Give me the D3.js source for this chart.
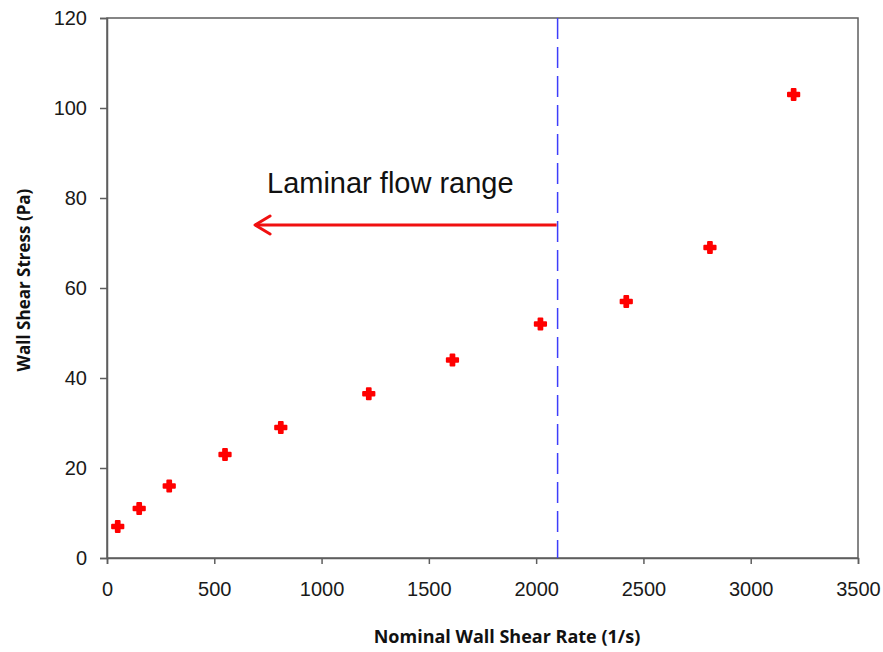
<!DOCTYPE html>
<html lang="en">
<head>
    <meta charset="UTF-8">
    <title>Wall Shear Stress</title>
    <script src="https://d3js.org/d3.v7.min.js"></script>
    <style>
        body { margin: 0; background: #fff; }
        text { font-family: "Liberation Sans", Arial, sans-serif; }
    </style>
</head>
<body>
<svg width="883" height="652"></svg>

<script>
    // values
    var shearRate = [50, 150, 290, 550, 810, 1220, 1610, 2020, 2420, 2810, 3200];
    var shearStress = [7, 11, 16, 23, 29, 36.5, 44, 52, 57, 69, 103];
    var xTicks = [0, 500, 1000, 1500, 2000, 2500, 3000, 3500];
    var yTicks = [0, 20, 40, 60, 80, 100, 120];
    var laminarLimit = 2100;
    var arrowFrom = 2100, arrowTo = 690, arrowLevel = 74;

    var svg = d3.select("svg");
    var plotLeft = 107, plotRight = 858, plotTop = 18, plotBottom = 558;

    var x = d3.scaleLinear().domain([0, 3500]).range([plotLeft, plotRight]);
    var y = d3.scaleLinear().domain([0, 120]).range([plotBottom, plotTop]);

    var axisColor = "#5e5e5e";

    // frame
    svg.append("rect")
        .attr("x", plotLeft).attr("y", plotTop)
        .attr("width", plotRight - plotLeft).attr("height", plotBottom - plotTop)
        .attr("fill", "none")
        .attr("stroke", axisColor)
        .attr("stroke-width", 1.5);

    var xAxis = svg.append("g")
        .attr("transform", "translate(0," + plotBottom + ")")
        .call(d3.axisBottom(x).tickValues(xTicks).tickSize(6).tickPadding(18).tickFormat(d3.format("d")));
    var yAxis = svg.append("g")
        .attr("transform", "translate(" + plotLeft + ",0)")
        .call(d3.axisLeft(y).tickValues(yTicks).tickSize(7).tickPadding(13).tickFormat(d3.format("d")));

    [xAxis, yAxis].forEach(function (g) {
        g.select(".domain").attr("stroke", axisColor).attr("stroke-width", 1.5);
        g.selectAll(".tick line").attr("stroke", axisColor).attr("stroke-width", 1.5);
        g.selectAll(".tick text")
            .attr("fill", "#1a1a1a")
            .style("font-size", "20px")
            .style("font-family", "'Liberation Sans', Arial, sans-serif");
    });

    // laminar boundary
    svg.append("line")
        .attr("x1", x(laminarLimit)).attr("x2", x(laminarLimit))
        .attr("y1", plotTop).attr("y2", plotBottom)
        .attr("stroke", "#3d3dfa")
        .attr("stroke-width", 1.5)
        .attr("stroke-dasharray", "21,8");

    // arrow
    var ay = y(arrowLevel);
    svg.append("line")
        .attr("x1", x(arrowFrom) - 1).attr("x2", x(arrowTo))
        .attr("y1", ay).attr("y2", ay)
        .attr("stroke", "#f01010")
        .attr("stroke-width", 3);
    svg.append("path")
        .attr("d", "M" + (x(arrowTo) + 15) + "," + (ay - 9) +
            "L" + x(arrowTo) + "," + ay +
            "L" + (x(arrowTo) + 15) + "," + (ay + 9))
        .attr("fill", "none")
        .attr("stroke", "#f01010")
        .attr("stroke-width", 3)
        .attr("stroke-linecap", "round")
        .attr("stroke-linejoin", "round");

    svg.append("text")
        .attr("x", 267).attr("y", 193)
        .style("font-size", "29px")
        .attr("fill", "#111")
        .text("Laminar flow range");

    // points as plus markers
    var plus = d3.symbol().type(d3.symbolCross).size(70);
    svg.append("g")
        .selectAll("path")
        .data(d3.range(shearRate.length))
        .enter().append("path")
        .attr("d", plus)
        .attr("transform", function (i) {
            return "translate(" + x(shearRate[i]) + "," + y(shearStress[i]) + ")";
        })
        .attr("fill", "#ff0000")
        .attr("stroke", "#ff0000")
        .attr("stroke-width", 2)
        .attr("stroke-linejoin", "round");

    // axis titles
    svg.append("text")
        .attr("x", 507).attr("y", 643)
        .attr("text-anchor", "middle")
        .style("font-family", "'Open Sans', sans-serif")
        .style("font-weight", "bold")
        .style("font-size", "18px")
        .attr("fill", "#111")
        .text("Nominal Wall Shear Rate (1/s)");

    svg.append("text")
        .attr("transform", "translate(30,280) rotate(-90)")
        .attr("text-anchor", "middle")
        .style("font-family", "'Open Sans', sans-serif")
        .style("font-weight", "bold")
        .style("font-size", "17px")
        .attr("fill", "#111")
        .text("Wall Shear Stress (Pa)");
</script>
</body>
</html>
